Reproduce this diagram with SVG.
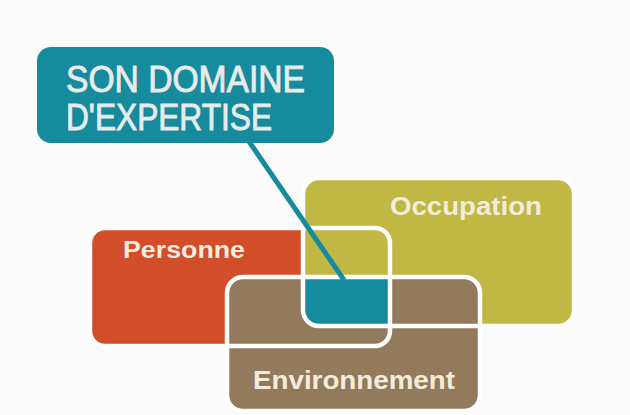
<svg xmlns="http://www.w3.org/2000/svg" width="630" height="415" viewBox="0 0 630 415">
  <style>
    .lbl { font-family: "Liberation Sans", Arial, sans-serif; font-weight: bold; fill: #f3ecdc; }
    .title { font-family: "Liberation Sans", Arial, sans-serif; font-size: 37px; fill: #e9ebea; stroke: #e9ebea; stroke-width: 0.9; }
    .outline { fill: none; stroke: #ffffff; stroke-width: 4.5; }
  </style>
  <defs>
    <clipPath id="clipOrange"><rect x="90" y="228" width="300" height="118" rx="15"/></clipPath>
    <clipPath id="clipOlive"><rect x="303" y="178" width="271" height="148" rx="16"/></clipPath>
  </defs>
  <rect width="630" height="415" fill="#fbfbfb"/>

  <g id="personne">
    <rect x="90" y="228" width="300" height="118" rx="15" fill="#d24d29"/>
  </g>
  <g id="occupation">
    <rect x="303" y="178" width="271" height="148" rx="16" fill="#c0b745"/>
  </g>
  <g id="environnement">
    <rect x="227" y="277" width="253" height="134" rx="16" fill="#937a5c"/>
  </g>
  <g id="expertise-zone">
    <g clip-path="url(#clipOrange)">
      <rect x="227" y="277" width="253" height="134" rx="16" fill="#168b9d" clip-path="url(#clipOlive)"/>
    </g>
  </g>
  <g id="outlines">
    <rect class="outline" x="90" y="228" width="300" height="118" rx="15"/>
    <rect class="outline" x="303" y="178" width="271" height="148" rx="16"/>
    <rect class="outline" x="227" y="277" width="253" height="134" rx="16"/>
  </g>
  <g id="labels">
    <text class="lbl" x="123" y="258" font-size="23" textLength="122" lengthAdjust="spacingAndGlyphs">Personne</text>
    <text class="lbl" x="390" y="215" font-size="25" textLength="152" lengthAdjust="spacingAndGlyphs">Occupation</text>
    <text class="lbl" x="253" y="389" font-size="26" textLength="202" lengthAdjust="spacingAndGlyphs">Environnement</text>
  </g>

  <g id="connectors">
    <line x1="248" y1="140" x2="344" y2="280" stroke="#168b9d" stroke-width="5"/>
  </g>

  <g id="son-domaine">
    <rect x="37" y="47" width="297" height="96" rx="14" fill="#168b9d"/>
    <text class="title" x="66" y="92" textLength="239" lengthAdjust="spacingAndGlyphs">SON DOMAINE</text>
    <text class="title" x="66" y="130" textLength="206" lengthAdjust="spacingAndGlyphs">D'EXPERTISE</text>
  </g>
</svg>
